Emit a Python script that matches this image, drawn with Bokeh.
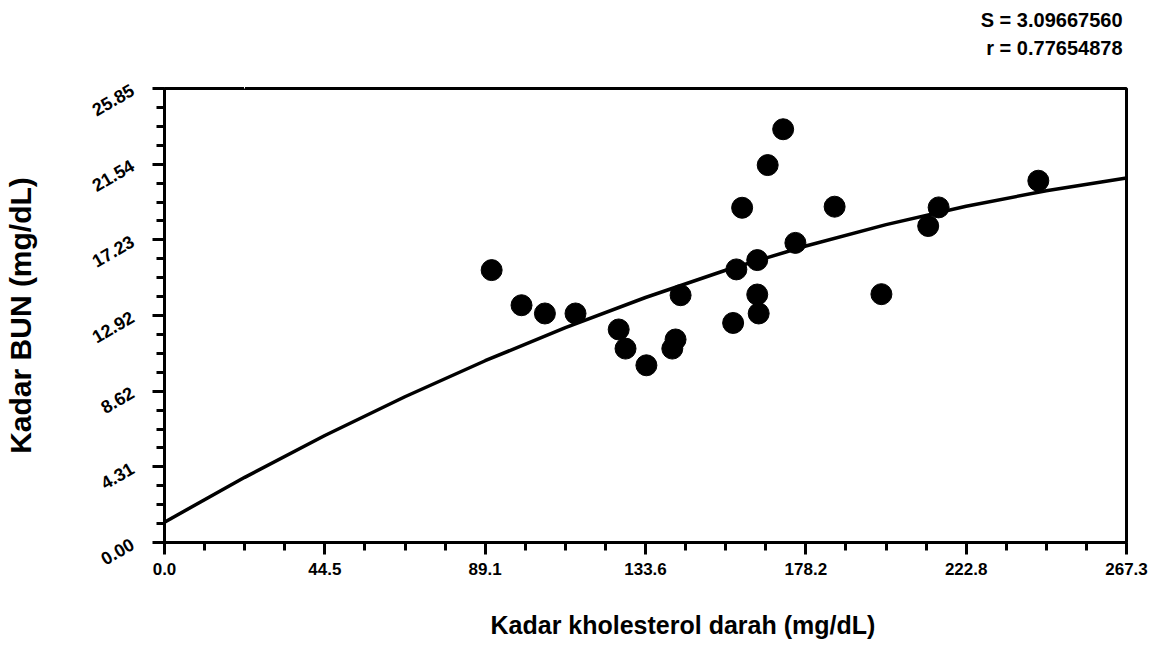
import math
from bokeh.plotting import figure
from bokeh.models import FixedTicker, Range1d, Title, LinearAxis
from bokeh.embed import file_html
from bokeh.resources import INLINE

# Data
kolesterol = [90.9, 99.2, 105.7, 114.2, 126.2, 128.1, 133.9, 141.1, 142.0, 143.4,
              158.0, 158.9, 160.5, 164.7, 164.7, 165.1, 167.6, 171.9, 175.3, 186.2,
              199.2, 212.2, 215.1, 242.8]
bun = [15.51, 13.51, 13.04, 13.04, 12.13, 11.04, 10.09, 11.04, 11.56, 14.08,
       12.50, 15.55, 19.06, 16.08, 14.12, 13.04, 21.49, 23.53, 17.06, 19.12,
       14.14, 18.02, 19.08, 20.60]

# Fitted curve
fit_x = [0.0, 22.3, 44.55, 66.8, 89.1, 111.4, 133.65, 155.9, 178.2, 200.5, 222.75, 245.0, 267.3]
fit_y = [1.16, 3.71, 6.09, 8.30, 10.35, 12.23, 13.95, 15.50, 16.88, 18.10, 19.15, 20.03, 20.75]

x_ticks = [0.0, 44.55, 89.1, 133.65, 178.2, 222.75, 267.3]
x_tick_labels = ["0.0", "44.5", "89.1", "133.6", "178.2", "222.8", "267.3"]
y_ticks = [0.0, 4.3083, 8.6167, 12.925, 17.2333, 21.5417, 25.85]
y_tick_labels = ["0.00", "4.31", "8.62", "12.92", "17.23", "21.54", "25.85"]

stat_s = "S = 3.09667560"
stat_r = "r = 0.77654878"
x_label = "Kadar kholesterol darah (mg/dL)"
y_label = "Kadar BUN (mg/dL)"

FONT = "Liberation Sans"

x_minor = [x_ticks[i] + k * (x_ticks[1] - x_ticks[0]) / 4
           for i in range(len(x_ticks) - 1) for k in range(1, 4)]
y_minor = [y_ticks[i] + k * (y_ticks[1] - y_ticks[0]) / 4
           for i in range(len(y_ticks) - 1) for k in range(1, 4)]

p = figure(width=1162, height=647, output_backend="svg", toolbar_location=None,
           x_range=Range1d(0, 267.3), y_range=Range1d(0, 25.85),
           min_border_left=164, min_border_right=36, min_border_top=88,
           min_border_bottom=105,
           title=stat_s)

# keep handles on the real axes before any spacer is added
xax = p.xaxis[0]
yax = p.yaxis[0]


def spacer_axis(size):
    """A blank axis (white tick on white, no label) that only reserves space."""
    pos = x_minor[1]
    return LinearAxis(ticker=FixedTicker(ticks=[pos], minor_ticks=[]),
                      major_label_overrides={pos: ""},
                      major_label_text_font_size="0px",
                      axis_line_color=None, major_tick_line_color="white",
                      major_tick_line_width=1,
                      minor_tick_line_color=None, major_tick_out=size,
                      major_tick_in=0, minor_tick_out=0, minor_tick_in=0,
                      major_label_standoff=0, axis_label=None)


p.title.align = "right"
p.title.text_font = FONT
p.title.text_font_style = "bold"
p.title.text_font_size = "20px"
p.title.text_color = "black"
p.title.standoff = 4
p.title.offset = 4

p.add_layout(spacer_axis(27), "above")
t_r = Title(text=stat_r, align="right", text_font=FONT,
            text_font_style="bold", text_font_size="20px", text_color="black",
            standoff=5, offset=4)
p.add_layout(t_r, "above")

p.grid.visible = False
p.outline_line_color = "black"
p.outline_line_width = 3
p.background_fill_color = "white"
p.border_fill_color = "white"

for ax in (xax, yax):
    ax.axis_line_width = 3
    ax.axis_line_color = "black"
    ax.major_tick_line_width = 3
    ax.minor_tick_line_width = 3
    ax.major_tick_out = 12
    ax.major_tick_in = 0
    ax.minor_tick_out = 8
    ax.minor_tick_in = 0
    ax.major_label_text_font = FONT
    ax.major_label_text_font_style = "bold"
    ax.major_label_text_color = "black"
    ax.axis_label_text_font = FONT
    ax.axis_label_text_font_style = "bold"
    ax.axis_label_text_color = "black"

xax.ticker = FixedTicker(ticks=x_ticks, minor_ticks=x_minor)
xax.major_label_overrides = dict(zip(x_ticks, x_tick_labels))
xax.major_label_text_font_size = "17px"
xax.major_label_standoff = 8

p.add_layout(spacer_axis(31), "below")
x_title = Title(text=x_label, align="left", text_font=FONT,
                text_font_style="bold", text_font_size="25px", text_color="black",
                standoff=0, offset=326)
p.add_layout(x_title, "below")

yax.ticker = FixedTicker(ticks=y_ticks, minor_ticks=y_minor)
yax.major_label_overrides = dict(zip(y_ticks, y_tick_labels))
yax.major_label_text_font_size = "18px"
yax.major_label_orientation = math.pi / 6
yax.major_label_standoff = 20
yax.axis_label = y_label
yax.axis_label_text_font_size = "30px"
yax.axis_label_standoff = 47

p.line(fit_x, fit_y, line_color="black", line_width=3.5)
p.scatter(kolesterol, bun, size=21, fill_color="black", line_color="black")

open("out.html", "w").write(file_html(p, INLINE))
